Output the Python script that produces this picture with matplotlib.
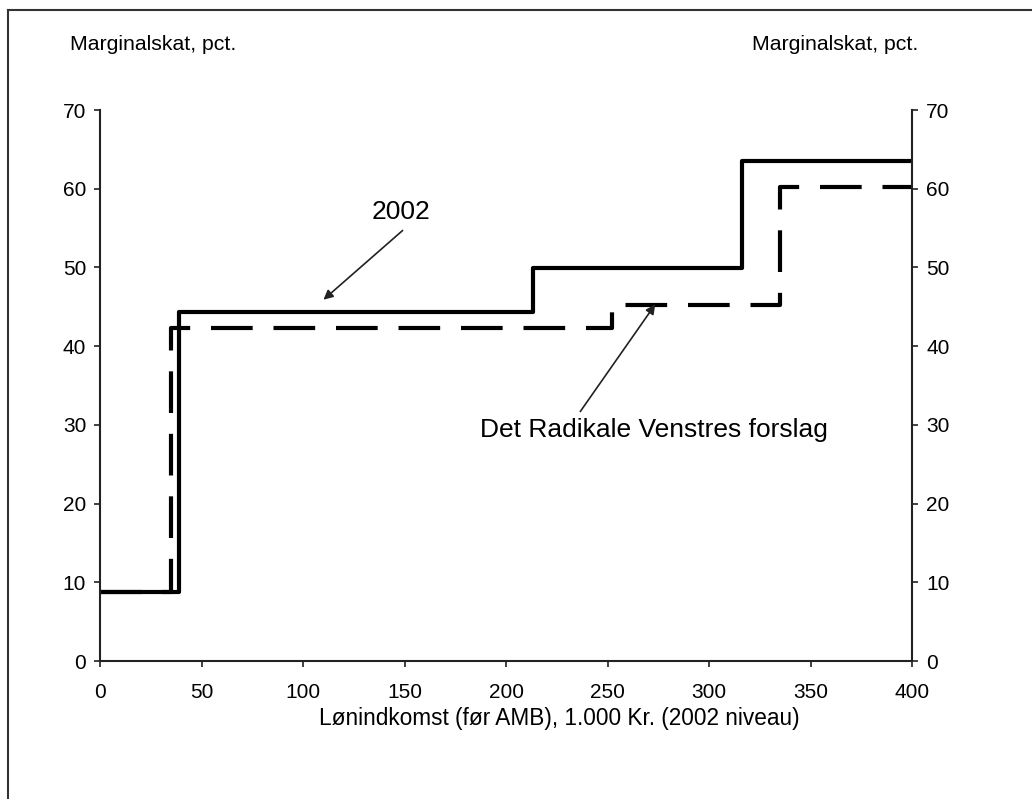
import matplotlib
matplotlib.use("Agg")
import matplotlib.pyplot as plt
from matplotlib.lines import Line2D

plt.rcParams['font.family'] = ['Liberation Sans', 'DejaVu Sans']

# step edges (1.000 kr.) and marginal tax (pct.)
edges2002 = [0, 39, 213, 316, 400]
rate2002 = [8.8, 44.3, 49.9, 63.5]
edgesRV = [0, 35, 252, 335, 400]
rateRV = [8.8, 42.3, 45.2, 60.2]

xticks = [0, 50, 100, 150, 200, 250, 300, 350, 400]
yticks = [0, 10, 20, 30, 40, 50, 60, 70]

fig = plt.figure(figsize=(10.32, 7.99), dpi=100)
ax = fig.add_axes([0.097, 0.1727, 0.787, 0.6896])

x1 = edges2002
y1 = rate2002 + [rate2002[-1]]
ax.step(x1, y1, where='post', color='black', lw=3)

x2 = edgesRV
y2 = rateRV + [rateRV[-1]]
ax.step(x2, y2, where='post', color='black', lw=3, dashes=(10, 5))

ax.set_xlim(0, 400)
ax.set_ylim(0, 70)
ax.set_xticks(xticks)
ax.set_yticks(yticks)
ax.tick_params(axis='both', labelsize=15, direction='out', length=4, width=1.2, color='#222222')
ax.tick_params(axis='x', pad=12)
ax.tick_params(axis='y', pad=6, right=True, labelright=True)
ax.spines['top'].set_visible(False)
for s in ['left', 'right', 'bottom']:
	ax.spines[s].set_linewidth(1.5)
	ax.spines[s].set_color('#222222')

ax.text(148, 55.5, '2002', fontsize=19, ha='center', va='bottom')
ax.annotate('', xy=(110, 45.9), xytext=(149, 54.7),
	arrowprops=dict(arrowstyle='-|>', color='#222222', lw=1.2, shrinkA=0, shrinkB=0, mutation_scale=14))
ax.text(273, 29.4, 'Det Radikale Venstres forslag', fontsize=19, ha='center', va='center')
ax.annotate('', xy=(273.4, 45.3), xytext=(236.5, 31.7),
	arrowprops=dict(arrowstyle='-|>', color='#222222', lw=1.2, shrinkA=0, shrinkB=0, mutation_scale=14))

fig.text(70/1032, 1-45/799, 'Marginalskat, pct.', fontsize=15.3, ha='left', va='center')
fig.text(918/1032, 1-45/799, 'Marginalskat, pct.', fontsize=15.3, ha='right', va='center')
fig.text(559/1032, 1-719/799, 'Lønindkomst (før AMB), 1.000 Kr. (2002 niveau)', fontsize=16.3, ha='center', va='center')

# frame of the scanned page
fig.add_artist(Line2D([8/1032, 8/1032], [0, 1-10/799], color='#333333', lw=1.5, transform=fig.transFigure))
fig.add_artist(Line2D([8/1032, 1], [1-10/799, 1-10/799], color='#333333', lw=1.5, transform=fig.transFigure))

fig.savefig('out.png', dpi=100)
